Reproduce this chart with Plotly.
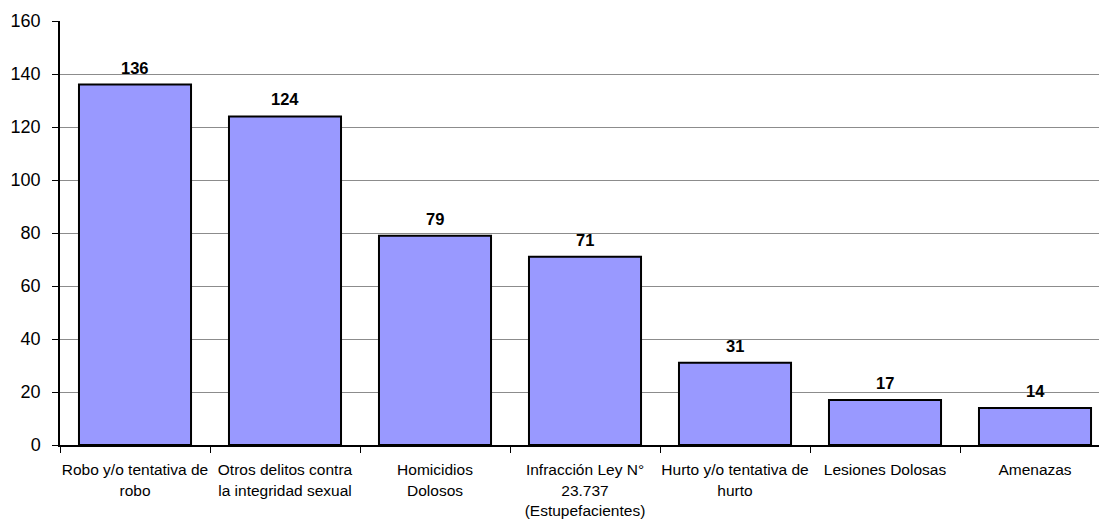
import plotly.graph_objects as go

categories = [
    "Robo y/o tentativa de<br>robo",
    "Otros delitos contra<br>la integridad sexual",
    "Homicidios<br>Dolosos",
    "Infracción Ley N°<br>23.737<br>(Estupefacientes)",
    "Hurto y/o tentativa de<br>hurto",
    "Lesiones Dolosas",
    "Amenazas",
]
values = [136, 124, 79, 71, 31, 17, 14]
y_ticks = [0, 20, 40, 60, 80, 100, 120, 140, 160]

W, H = 1099, 521
ML, MR, MT, MB = 60, 0, 21, 76
cat_px = 150.0
plot_w = W - ML - MR

fig = go.Figure()
fig.add_trace(go.Bar(
    x=categories,
    y=values,
    marker=dict(color="#9999FF", line=dict(color="black", width=2)),
    hoverinfo="skip",
))

for cat, v in zip(categories, values):
    fig.add_annotation(
        x=cat, y=v, text=f"<b>{v}</b>", showarrow=False,
        yanchor="bottom", yshift=6,
        font=dict(family="Liberation Sans, Arial, sans-serif", size=16.5, color="black"),
    )

fig.update_layout(
    width=W, height=H,
    margin=dict(l=ML, r=MR, t=MT, b=MB, pad=0, autoexpand=False),
    paper_bgcolor="white", plot_bgcolor="white",
    bargap=0.253,
    showlegend=False,
    font=dict(family="Liberation Sans, Arial, sans-serif", color="black"),
)
fig.update_xaxes(
    type="category",
    range=[-0.5, -0.5 + plot_w / cat_px],
    automargin=False,
    tickangle=0,
    showgrid=False,
    showline=True, linecolor="black", linewidth=1.5,
    ticks="outside", tickson="boundaries", ticklen=6, tickcolor="black", tickwidth=1,
    tickfont=dict(size=15.5, color="black"),
    ticklabelstandoff=10,
    zeroline=False,
)
fig.update_yaxes(
    range=[0, 160],
    automargin=False,
    tickmode="array", tickvals=y_ticks,
    showgrid=True, gridcolor="#8c8c8c", gridwidth=1,
    showline=True, linecolor="black", linewidth=1.5,
    ticks="outside", ticklen=6, tickcolor="black", tickwidth=1,
    tickfont=dict(size=18, color="black"),
    ticklabelstandoff=8,
    zeroline=False,
)

fig.write_html(
    "out.html",
    config={"displayModeBar": False},
    post_script="document.body.style.margin='0';document.body.style.overflow='hidden';",
)
